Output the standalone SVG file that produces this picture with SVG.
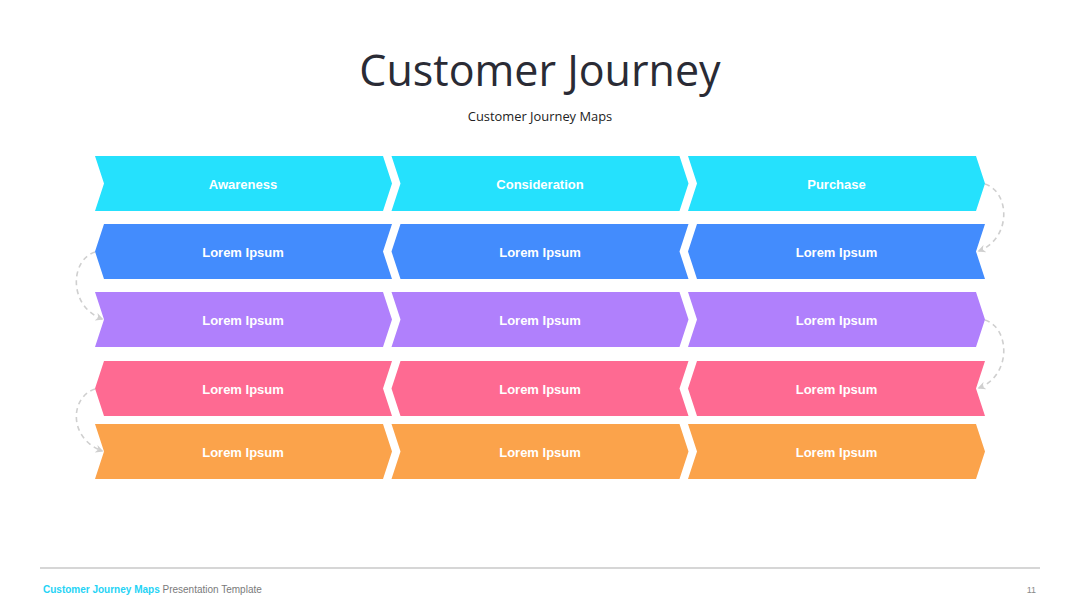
<svg xmlns="http://www.w3.org/2000/svg" xmlns:xlink="http://www.w3.org/1999/xlink" width="1080" height="608" viewBox="0 0 1080 608">
<style>
.lbl{font-family:"Liberation Sans",Arial,sans-serif;font-weight:bold;font-size:13px;fill:#ffffff;text-anchor:middle}
.c1{fill:#25E1FD}
.c2{fill:#438CFD}
.c3{fill:#B080FC}
.c4{fill:#FE6A92}
.c5{fill:#FBA34B}
.conn{fill:none;stroke:#cfcfcf;stroke-width:1.6;stroke-dasharray:5 4}
</style>
<defs>
<polygon id="rc" points="0,0 288,0 297,27.5 288,55 0,55 9,27.5"/>
<polygon id="lc" points="9,0 297,0 288,27.5 297,55 9,55 0,27.5"/>
<marker id="ah" viewBox="0 0 10 10" refX="8" refY="5" markerWidth="8" markerHeight="8" orient="auto" markerUnits="userSpaceOnUse">
<path d="M0,0 L10,5 L0,10 L3,5 Z" fill="#cfcfcf"/>
</marker>
</defs>
<rect width="1080" height="608" fill="#ffffff"/>
<text x="540" y="86" font-family="'Open Sans','Liberation Sans',Arial,sans-serif" font-size="43" fill="#2a2b35" text-anchor="middle">Customer Journey</text>
<text x="540" y="121" font-family="'Open Sans','Liberation Sans',Arial,sans-serif" font-size="12.9" fill="#222222" text-anchor="middle">Customer Journey Maps</text>

<g id="connectors">
<path class="conn" d="M985,184 C1010,192 1012,238 979,251" marker-end="url(#ah)"/>
<path class="conn" d="M95,252 C70,260 68,306 102,319" marker-end="url(#ah)"/>
<path class="conn" d="M985,320 C1010,328 1012,375 979,388" marker-end="url(#ah)"/>
<path class="conn" d="M95,389 C70,397 68,438 102,451" marker-end="url(#ah)"/>
</g>

<g id="r1-awareness"><use href="#rc" x="95" y="156" class="c1"/><text class="lbl" x="243" y="188.5">Awareness</text></g>
<g id="r1-consideration"><use href="#rc" x="391.5" y="156" class="c1"/><text class="lbl" x="540" y="188.5">Consideration</text></g>
<g id="r1-purchase"><use href="#rc" x="688" y="156" class="c1"/><text class="lbl" x="836.5" y="188.5">Purchase</text></g>

<g id="r2-a"><use href="#lc" x="95" y="224" class="c2"/><text class="lbl" x="243" y="256.5">Lorem Ipsum</text></g>
<g id="r2-b"><use href="#lc" x="391.5" y="224" class="c2"/><text class="lbl" x="540" y="256.5">Lorem Ipsum</text></g>
<g id="r2-c"><use href="#lc" x="688" y="224" class="c2"/><text class="lbl" x="836.5" y="256.5">Lorem Ipsum</text></g>

<g id="r3-a"><use href="#rc" x="95" y="292" class="c3"/><text class="lbl" x="243" y="324.5">Lorem Ipsum</text></g>
<g id="r3-b"><use href="#rc" x="391.5" y="292" class="c3"/><text class="lbl" x="540" y="324.5">Lorem Ipsum</text></g>
<g id="r3-c"><use href="#rc" x="688" y="292" class="c3"/><text class="lbl" x="836.5" y="324.5">Lorem Ipsum</text></g>

<g id="r4-a"><use href="#lc" x="95" y="361" class="c4"/><text class="lbl" x="243" y="393.5">Lorem Ipsum</text></g>
<g id="r4-b"><use href="#lc" x="391.5" y="361" class="c4"/><text class="lbl" x="540" y="393.5">Lorem Ipsum</text></g>
<g id="r4-c"><use href="#lc" x="688" y="361" class="c4"/><text class="lbl" x="836.5" y="393.5">Lorem Ipsum</text></g>

<g id="r5-a"><use href="#rc" x="95" y="424" class="c5"/><text class="lbl" x="243" y="456.5">Lorem Ipsum</text></g>
<g id="r5-b"><use href="#rc" x="391.5" y="424" class="c5"/><text class="lbl" x="540" y="456.5">Lorem Ipsum</text></g>
<g id="r5-c"><use href="#rc" x="688" y="424" class="c5"/><text class="lbl" x="836.5" y="456.5">Lorem Ipsum</text></g>

<g id="footer">
<line x1="40" y1="568" x2="1040" y2="568" stroke="#c8c8c8" stroke-width="1.5"/>
<text x="43" y="593" font-family="'Liberation Sans',Arial,sans-serif" font-size="10"><tspan fill="#25D3F5" font-weight="bold">Customer Journey Maps</tspan><tspan fill="#7a7a7a"> Presentation Template</tspan></text>
<text x="1036" y="593" font-family="'Liberation Sans',Arial,sans-serif" font-size="9" fill="#8a8a8a" text-anchor="end">11</text>
</g>
</svg>
